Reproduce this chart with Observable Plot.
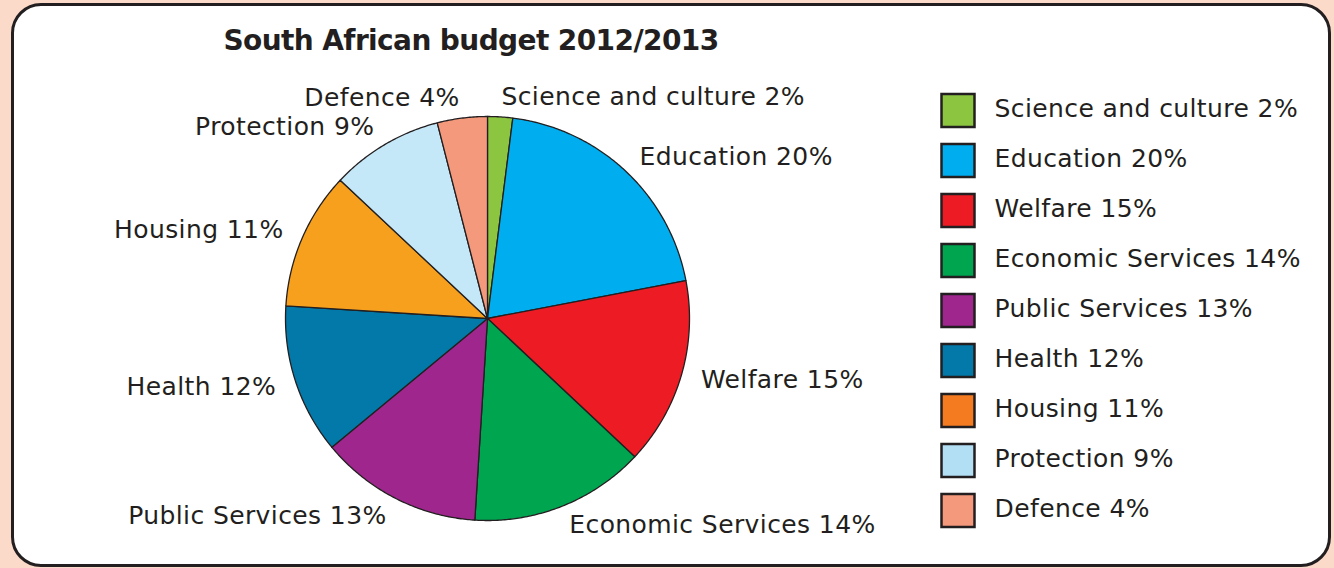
<!DOCTYPE html>
<html>
<head>
<meta charset="utf-8">
<script src="https://cdn.jsdelivr.net/npm/d3@7"></script>
<script src="https://cdn.jsdelivr.net/npm/@observablehq/plot@0.6"></script>
<style>
  html, body { margin: 0; padding: 0; width: 1334px; height: 568px; overflow: hidden; background: #fcdaca; }
  #panel { position: absolute; left: 11px; top: 3px; width: 1314px; height: 558px; border: 3px solid #231f20; border-radius: 30px; background: #fff; }
  #title { position: absolute; left: 0; top: 24px; width: 942px; text-align: center; font: bold 28px "DejaVu Sans", sans-serif; letter-spacing: -0.6px; color: #231f20; }
  #pie { position: absolute; left: 0; top: 0; }
  #legend { position: absolute; left: 941px; top: 84px; }
  svg { overflow: visible; }
  svg text { letter-spacing: 0.4px; }
</style>
</head>
<body>
<div id="panel"></div>
<div id="pie"></div>
<div id="legend"></div>
<div id="title">South African budget 2012/2013</div>
<script>
const titleText = "South African budget 2012/2013";
const categories = ["Science and culture", "Education", "Welfare", "Economic Services", "Public Services", "Health", "Housing", "Protection", "Defence"];
const shares = [2, 20, 15, 14, 13, 12, 11, 9, 4];
const pieColors = ["#8cc540", "#00adef", "#ed1c24", "#00a550", "#9e268c", "#0279a8", "#f7a01d", "#c5e8f8", "#f4997b"];
const legendColors = ["#8cc540", "#00adef", "#ed1c24", "#00a550", "#9e268c", "#0279a8", "#f47b20", "#b3dff5", "#f4997b"];

const W = 1334, H = 568;
const cx = 487, cy = 318, R = 202;
const ink = "#231f20";
const font = "DejaVu Sans, sans-serif";
const fs = 25;

document.getElementById("title").textContent = titleText;

const rows = categories.map((c, i) => ({name: c, share: shares[i], color: pieColors[i], lcolor: legendColors[i], label: `${c} ${shares[i]}%`}));
const pie = d3.pie().value(d => d.share).sort(null)(rows);

// polygon outline of each slice in unit-circle coordinates (x = sin, y = cos, angle clockwise from top)
const outline = [];
for (const a of pie) {
  outline.push({name: a.data.name, color: a.data.color, x: 0, y: 0});
  const n = Math.max(2, Math.ceil((a.endAngle - a.startAngle) / (Math.PI / 360)));
  for (let k = 0; k <= n; ++k) {
    const t = a.startAngle + (a.endAngle - a.startAngle) * k / n;
    outline.push({name: a.data.name, color: a.data.color, x: Math.sin(t), y: Math.cos(t)});
  }
  outline.push({name: a.data.name, color: a.data.color, x: 0, y: 0});
}
const labels = pie.map(a => {
  const m = (a.startAngle + a.endAngle) / 2;
  return {label: a.data.label, x: 1.1 * Math.sin(m), y: 1.1 * Math.cos(m), right: m < Math.PI};
});

const piePlot = Plot.plot({
  width: W, height: H,
  margin: 0,
  x: {domain: [-cx / R, (W - cx) / R], axis: null},
  y: {domain: [(cy - H) / R, cy / R], axis: null},
  color: {type: "identity"},
  style: {background: "transparent", fontFamily: font},
  marks: [
    Plot.line(outline, {x: "x", y: "y", z: "name", fill: "color", stroke: ink, strokeWidth: 1.3, strokeLinejoin: "round", curve: "linear"}),
    Plot.text(labels.filter(d => d.right), {x: "x", y: "y", text: "label", textAnchor: "start", fontSize: fs, fill: ink, lineAnchor: "middle"}),
    Plot.text(labels.filter(d => !d.right), {x: "x", y: "y", text: "label", textAnchor: "end", fontSize: fs, fill: ink, lineAnchor: "middle"})
  ]
});
document.getElementById("pie").appendChild(piePlot);

const legendPlot = Plot.plot({
  width: 392, height: 452,
  marginTop: 25, marginBottom: 25, marginLeft: 0, marginRight: 0,
  y: {type: "point", domain: categories, axis: null, padding: 0},
  color: {type: "identity"},
  style: {background: "transparent", fontFamily: font},
  marks: [
    Plot.dot(rows, {y: "name", frameAnchor: "left", dx: 16.5, symbol: "square", r: 33 / Math.sqrt(Math.PI), fill: "lcolor", stroke: ink, strokeWidth: 2.5}),
    Plot.text(rows, {y: "name", text: "label", frameAnchor: "left", dx: 53, textAnchor: "start", fontSize: fs, fill: ink, dy: -2})
  ]
});
document.getElementById("legend").appendChild(legendPlot);
</script>
</body>
</html>
